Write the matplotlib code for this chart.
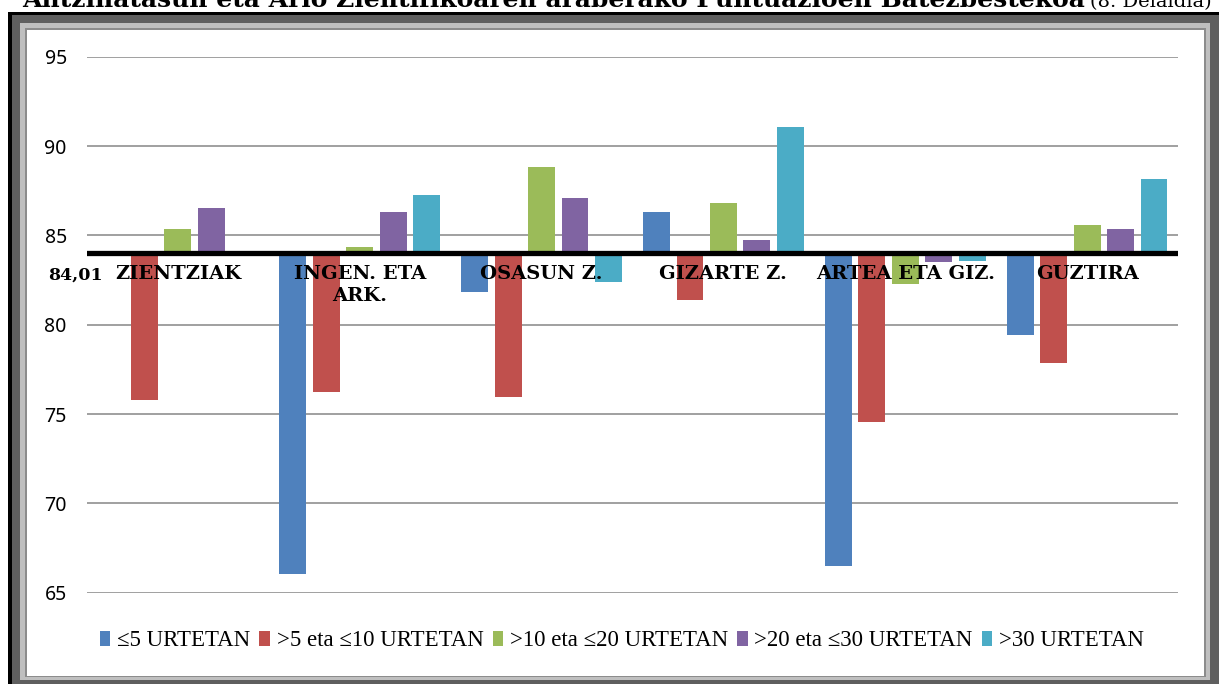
import numpy as np
import matplotlib
matplotlib.use("Agg")
import matplotlib.pyplot as plt
from matplotlib.patches import Rectangle

# data (bars hang from the 84,01 reference line)
categories = ['ZIENTZIAK', 'INGEN. ETA\nARK.', 'OSASUN Z.', 'GIZARTE Z.',
              'ARTEA ETA GIZ.', 'GUZTIRA']
series_names = ['≤5 URTETAN', '>5 eta ≤10 URTETAN', '>10 eta ≤20 URTETAN',
                '>20 eta ≤30 URTETAN', '>30 URTETAN']
upto5 = [np.nan, 66.04, 81.85, 86.30, 66.49, 79.44]
from5to10 = [75.79, 76.24, 75.96, 81.40, 74.56, 77.87]
from10to20 = [85.35, 84.35, 88.81, 86.80, 82.26, 85.57]
from20to30 = [86.52, 86.30, 87.08, 84.74, 83.54, 85.35]
over30 = [np.nan, 87.25, 82.37, 91.10, 83.58, 88.14]
reference = 84.01
y_ticks = [65, 70, 75, 80, 85, 90, 95]

colors = ['#4F81BD', '#C0504D', '#9BBB59', '#8064A2', '#4BACC6']
all_series = [upto5, from5to10, from10to20, from20to30, over30]

W, H = 1219, 684
fig = plt.figure(figsize=(W / 100, H / 100), dpi=100)


def px_rect(x0, y0, x1, y1, color):
    # rectangle given in pixel coords measured from the top-left corner
    fig.patches.append(Rectangle((x0 / W, 1 - y1 / H), (x1 - x0) / W, (y1 - y0) / H,
                                 transform=fig.transFigure, facecolor=color,
                                 edgecolor='none', zorder=-10))


# frame around the chart
px_rect(8, 12, W + 5, H + 5, 'black')
px_rect(12, 15, W + 5, H + 5, '#5f5f5f')
px_rect(20, 23, 1210, 680, '#bfbfbf')
px_rect(25, 28, 1206, 677, '#8c8c8c')
px_rect(27, 30, 1204, 676, 'white')

# title, mostly cut off by the top of the picture (as in the source)
fig.text(22 / W, 1 - 7 / H,
         'Antzinatasun eta Arlo Zientifikoaren araberako Puntuazioen Batezbestekoa',
         fontsize=18, fontweight='bold', family='DejaVu Serif', va='baseline', ha='left')
fig.text(1212 / W, 1 - 7 / H, '(8. Deialdia)', fontsize=14, family='DejaVu Serif',
         va='baseline', ha='right')

ax = fig.add_axes([87 / W, 1 - 592.5 / H, (1178 - 87) / W, (592.5 - 57) / H])
ax.set_facecolor('none')

x = np.arange(len(categories))
pitch, width = 0.184, 0.148
for i, (vals, c, name) in enumerate(zip(all_series, colors, series_names)):
    vals = np.array(vals, dtype=float)
    ax.bar(x + (i - 2) * pitch, vals - reference, width, bottom=reference,
           color=c, label=name, zorder=2)

ax.axhline(reference, color='black', lw=3.8, zorder=3)

ax.set_xlim(-0.5, len(categories) - 0.5)
ax.set_ylim(65, 95)
ax.set_yticks(y_ticks)
ax.set_yticklabels([str(t) for t in y_ticks], family='Noto Sans', fontsize=14)
ax.tick_params(axis='y', length=0, pad=14.5)
ax.set_xticks([])
ax.yaxis.grid(True, color='#868686', lw=1.1)
ax.set_axisbelow(True)
for s in ax.spines.values():
    s.set_visible(False)

for xi, lab in zip(x, categories):
    ax.text(xi, 83.35, lab, ha='center', va='top', fontsize=14,
            fontweight='bold', family='DejaVu Serif', linespacing=1.3, zorder=4)

fig.text(48 / W, 1 - 275 / H, '84,01', ha='left', va='center', fontsize=12.5,
         fontweight='bold', family='DejaVu Serif')

leg = fig.legend(loc='center', bbox_to_anchor=(622 / W, 1 - 641 / H), ncol=5,
                 frameon=False, prop={'family': 'Liberation Serif', 'size': 16.5},
                 handlelength=0.45, handleheight=0.65, handletextpad=0.3,
                 columnspacing=0.4, borderaxespad=0)

fig.savefig('out.png', dpi=100)
